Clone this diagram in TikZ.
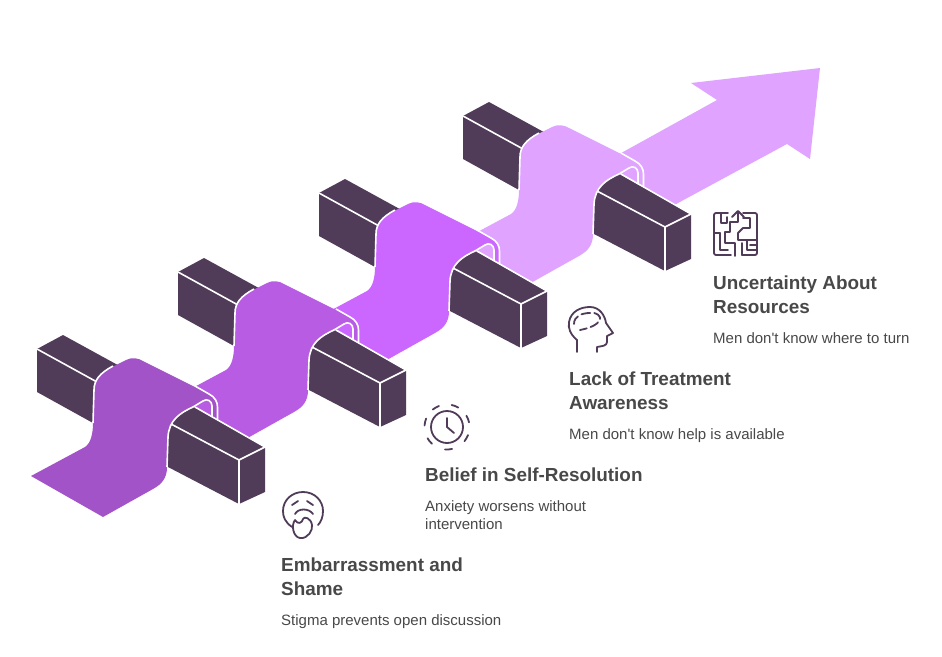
\documentclass[tikz,border=0pt]{standalone}
\usepackage{fontspec}
\setmainfont{Liberation Sans}
\newfontfamily\plainfont{Liberation Sans}
\definecolor{blockcol}{HTML}{503B58}
\definecolor{textcol}{HTML}{484848}
\definecolor{ribbonone}{HTML}{A353C8}
\definecolor{ribbontwo}{HTML}{B85CE3}
\definecolor{ribbonthree}{HTML}{CB66FF}
\definecolor{ribbonfour}{HTML}{E0A3FF}
\tikzset{
  title/.style={anchor=base west,font=\fontsize{18.9}{24}\selectfont\bfseries,text=textcol,inner sep=0pt},
  body/.style={anchor=base west,font=\plainfont\fontsize{15}{18}\selectfont,text=textcol,inner sep=0pt},
  icon/.style={draw=blockcol,line width=1.8pt,line cap=round,line join=round},
  edge/.style={draw=white,line width=1.6pt}
}

\begin{document}
\begin{tikzpicture}[x=1pt,y=-1pt]
  \useasboundingbox (0,0) rectangle (942,656);
  % arrow behind the last ribbon
  \fill[ribbonfour] (600,165)--(623,152)--(717,100)--(691,83)--(820,68)--(810,159)--(787,144)--(678,203)--(650,220)--cycle;
  % back to front
  \foreach \dx/\dy/\col in {426/-233/ribbonfour,282/-156/ribbonthree,141/-77/ribbontwo,0/0/ribbonone} {
    \begin{scope}[shift={(\dx,\dy)}]
      \fill[blockcol] (37,349)--(63,335)--(125,369)--(93,423)--(37,392)--cycle;
      \draw[edge] (37,349)--(97,382);
      \fill[\col] (31,476)--(85,447) .. controls (91,443) and (93,433) .. (93,423)
        --(94,390) .. controls (94,380) and (100,373) .. (112,367)
        --(126,360) .. controls (132,357) and (138,358) .. (143,361)
        --(209,394) .. controls (215,397) and (217.5,402) .. (217.5,407)
        --(217.5,424)--(212,421)--(212,406) .. controls (212,401) and (207,398) .. (203,401)
        --(193,407) .. controls (180,413) and (169,420) .. (168,437)
        --(167,467) .. controls (167,478) and (162,484) .. (153,489)
        --(103,517)--cycle;
      \draw[edge] (113,366) .. controls (100,373) and (94,380) .. (94,390)--(93,423);
      \draw[edge] (195,386)--(209,394) .. controls (215,397) and (217.5,402) .. (217.5,407)--(217.5,419);
      \fill[blockcol] (193,407) .. controls (180,413) and (169,420) .. (168,437)
        --(168,467)--(239,504)--(265,492)--(265,447)--cycle;
      \draw[edge] (212,417)--(212,406) .. controls (212,401) and (207,398) .. (203,401)
        --(193,407) .. controls (180,413) and (169,420) .. (168,437)--(167,467);
      \draw[edge] (195,407)--(265,447)--(239,460)--(171,424);
      \draw[edge] (239,460)--(239,504);
    \end{scope}
  }
  % icons
  \draw[icon,rounded corners=2pt] (728,213)--(714,213)--(714,255)--(731,255);
  \draw[icon,rounded corners=2pt] (743,213)--(757,213)--(757,255)--(742,255);
  \draw[icon] (732,217)--(738,211)--(744,217);
  \draw[icon] (738,212)--(738,222)--(730,222)--(730,232)--(725,232)--(725,243)--(735,243)--(735,256);
  \draw[icon] (721,213)--(721,223)--(727,223)--(727,217);
  \draw[icon] (714,233)--(720,233);
  \draw[icon] (720,233)--(720,250)--(728,250);
  \draw[icon] (743,218)--(750,218)--(750,228)--(743,228)--(738,233)--(738,240)--(757,240);
  \draw[icon] (747,240)--(747,250)--(757,250);
  \draw[icon] (750,245)--(757,245);
  \draw[icon] (742,243)--(742,255);
  \draw[icon] (577,352)--(577,340) .. controls (570,334) and (568,328) .. (569,322)
    .. controls (571,311) and (581,307) .. (590,307) .. controls (600,307) and (605,316) .. (606,323)
    --(613,333)--(607,336)--(607,342) .. controls (607,346) and (602,346) .. (597,347)--(597,352);
  \draw[icon,dash pattern=on 9pt off 4pt] (574,324) .. controls (574,316) and (582,313) .. (590,313)
    .. controls (597,312) and (601,316) .. (600,320) .. controls (597,325) and (590,328) .. (580,330);
  \draw[icon] (447,427) circle (16);
  \draw[icon] (447,418)--(447,427)--(454,433);
  \foreach \a in {231,282,330,21,77,132,184}
    \draw[icon] (447,427)+(\a:22.5) arc[start angle=\a,end angle=\a+18,radius=22.5];
  \draw[icon] (292,527) .. controls (285,522) and (283,517) .. (283,511) .. controls (283,500) and (292,492) .. (303,492)
    .. controls (315,492) and (323,501) .. (323,511) .. controls (323,517) and (321,522) .. (318,525);
  \draw[icon] (292,505)--(298,501);
  \draw[icon] (307,501)--(313,505);
  \draw[icon] (295,514) .. controls (298,508) and (309,508) .. (313,514);
  \draw[icon] (295,520) .. controls (291,525) and (293,537) .. (300,538) .. controls (308,539) and (313,530) .. (312,525)
    .. controls (311,518) and (304,516) .. (303,519) .. controls (302,523) and (298,525) .. (295,520);
  % labels
  \node[title] (uncertainty) at (713,289) {Uncertainty About};
  \node[title] (resources) at (713,313) {Resources};
  \node[body] (turn) at (713,343) {Men don't know where to turn};
  \node[title] (lack) at (569,385) {Lack of Treatment};
  \node[title] (awareness) at (569,409) {Awareness};
  \node[body] (help) at (569,439) {Men don't know help is available};
  \node[title] (belief) at (425,481) {Belief in Self-Resolution};
  \node[body] (anxiety) at (425,511) {Anxiety worsens without};
  \node[body] (intervention) at (425,529) {intervention};
  \node[title] (embarrass) at (281,571) {Embarrassment and};
  \node[title] (shame) at (281,595) {Shame};
  \node[body] (stigma) at (281,625) {Stigma prevents open discussion};
\end{tikzpicture}
\end{document}
